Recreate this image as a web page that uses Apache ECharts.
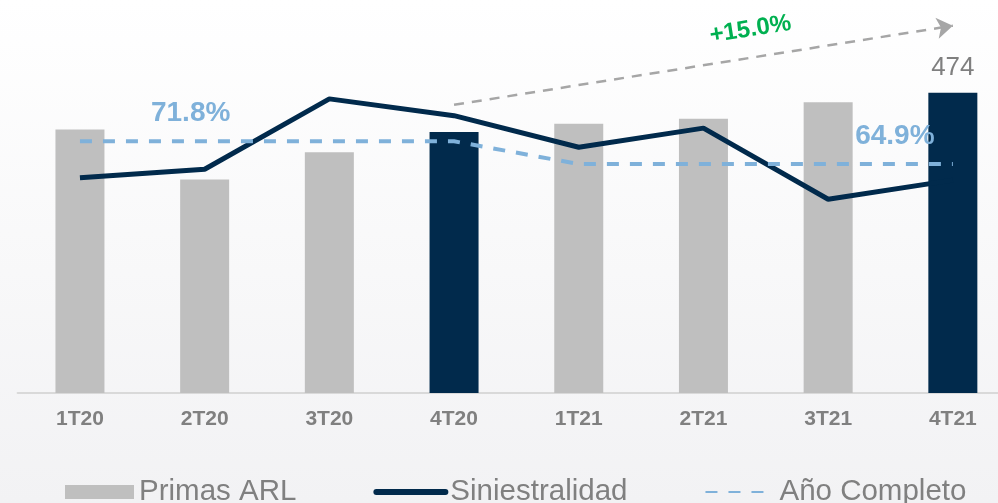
<!DOCTYPE html>
<html>
<head>
<meta charset="utf-8">
<script src="https://cdn.jsdelivr.net/npm/echarts@6/dist/echarts.min.js"></script>
<style>
  html, body { margin: 0; padding: 0; }
  #chart { width: 998px; height: 503px; }
</style>
</head>
<body>
<div id="chart"></div>
<script>
// datos
const categories = ["1T20", "2T20", "3T20", "4T20", "1T21", "2T21", "3T21", "4T21"];
const primasARL = [416, 337, 380, 412, 425, 433, 459, 474];
const siniestralidad = [60.7, 63.3, 84.7, 79.6, 70.0, 75.8, 54.2, 60.0];
const anioCompleto = [71.8, 71.8, 71.8, 71.8, 64.9, 64.9, 64.9, 64.9];
const destacados = ["4T20", "4T21"];
const flechaDesde = ["4T20", 455];
const flechaHasta = ["4T21", 580];
const variacion = "+15.0%";

const GRIS = "#bfbfbf";
const AZUL = "#012a4c";
const CELESTE = "#7fb1da";
const FONT = "Liberation Sans, Arial, sans-serif";

const chart = echarts.init(document.getElementById("chart"));

const option = {
  backgroundColor: new echarts.graphic.LinearGradient(0, 0, 0, 1, [
    { offset: 0, color: "#ffffff" },
    { offset: 1, color: "#f2f2f4" },
  ]),
  animation: false,
  textStyle: { fontFamily: FONT },
  grid: {
    left: 17.6,
    width: 997.6,
    top: 13,
    bottom: 110,
    containLabel: false,
    outerBoundsMode: "none",
  },
  legend: {
    left: 65,
    top: 477,
    padding: 0,
    itemWidth: 69,
    itemHeight: 14,
    itemGap: 77,
    textStyle: { fontSize: 29.5, color: "#808080", fontFamily: FONT },
    data: [
      { name: "Primas ARL", icon: "rect" },
      { name: "Siniestralidad", itemStyle: { opacity: 0 }, lineStyle: { width: 6, cap: "round" } },
      { name: "Año Completo", itemStyle: { opacity: 0 } },
    ],
  },
  xAxis: {
    type: "category",
    data: categories,
    axisLine: { lineStyle: { color: "#d9d9d9", width: 2 } },
    axisTick: { show: false },
    axisLabel: {
      color: "#808080",
      fontWeight: "bold",
      fontSize: 21,
      margin: 16,
      fontFamily: FONT,
    },
  },
  yAxis: [
    { type: "value", min: 0, max: 600, show: false },
    { type: "value", min: -4.7, max: 110.8, show: false },
  ],
  series: [
    {
      name: "Primas ARL",
      type: "bar",
      barWidth: 49,
      itemStyle: { color: GRIS },
      data: primasARL.map((v, i) => {
        const item = { value: v };
        if (destacados.includes(categories[i])) item.itemStyle = { color: AZUL };
        if (i === primasARL.length - 1) {
          item.label = {
            show: true,
            position: "top",
            distance: 12,
            color: "#7f7f7f",
            fontSize: 26,
            fontFamily: FONT,
          };
        }
        return item;
      }),
      markLine: {
        silent: true,
        symbol: ["none", "arrow"],
        symbolSize: 16,
        lineStyle: { color: "#a6a6a6", type: [10, 8], width: 2.5 },
        label: {
          show: true,
          position: "insideMiddleTop",
          formatter: variacion,
          color: "#00b050",
          fontWeight: "bold",
          fontSize: 24,
          fontFamily: FONT,
          distance: 16,
          padding: [0, 0, 0, 104],
        },
        data: [[{ coord: flechaDesde }, { coord: flechaHasta }]],
      },
    },
    {
      name: "Siniestralidad",
      type: "line",
      yAxisIndex: 1,
      showSymbol: false,
      symbol: "none",
      itemStyle: { color: AZUL },
      lineStyle: { color: AZUL, width: 5 },
      data: siniestralidad,
    },
    {
      name: "Año Completo",
      type: "line",
      yAxisIndex: 1,
      showSymbol: true,
      symbol: "circle",
      symbolSize: 0,
      itemStyle: { color: CELESTE },
      lineStyle: { color: CELESTE, width: 4, type: [12, 11] },
      data: anioCompleto.map((v, i) => {
        const item = { value: v };
        if (i === 1 || i === anioCompleto.length - 1) {
          item.label = {
            show: true,
            position: "top",
            distance: 14,
            offset: i === 1 ? [-14, 0] : [-58, 0],
            formatter: (p) => p.value.toFixed(1) + "%",
            color: CELESTE,
            fontWeight: "bold",
            fontSize: 28,
            fontFamily: FONT,
          };
        }
        return item;
      }),
    },
  ],
};

chart.setOption(option);
window.addEventListener("resize", () => chart.resize());
</script>
</body>
</html>
